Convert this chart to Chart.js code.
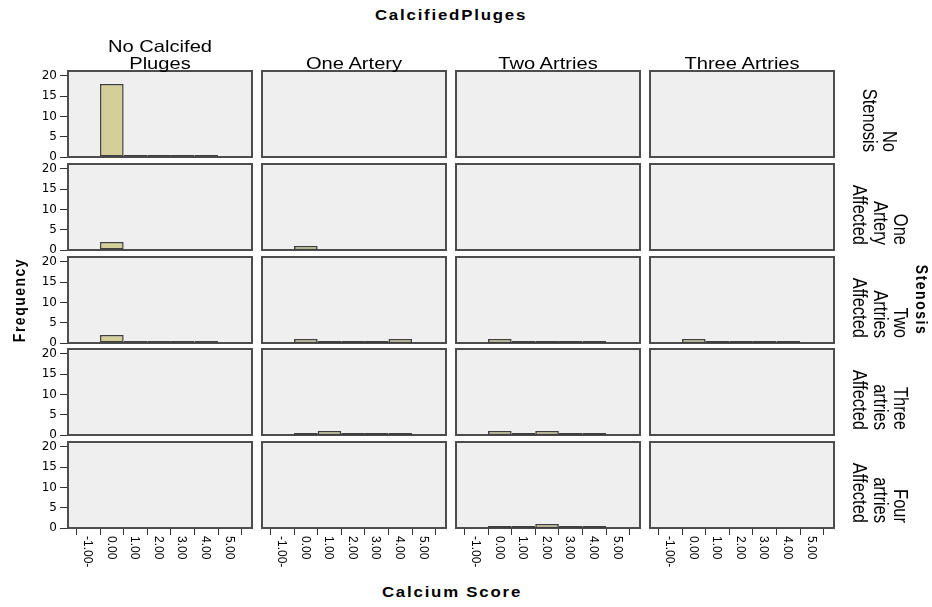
<!DOCTYPE html>
<html><head><meta charset="utf-8">
<script src="https://cdn.jsdelivr.net/npm/chart.js@4.4.1/dist/chart.umd.min.js"></script>
<style>
html,body{margin:0;padding:0;background:#fff;}
body{width:932px;height:607px;position:relative;overflow:hidden;font-family:"Liberation Sans",Arial,sans-serif;color:#000;}
canvas{position:absolute;}
.t{position:absolute;white-space:nowrap;color:#000;}
</style></head><body>
<script>
// ---- data ----
const title = "CalcifiedPluges";
const rowTitle = "Stenosis";
const yTitle = "Frequency";
const xTitle = "Calcium Score";
const colLabels = [["No Calcifed","Pluges"],["One Artery"],["Two Artries"],["Three Artries"]];
const rowLabels = [["No","Stenosis"],["One","Artery","Affected"],["Two","Artries","Affected"],["Three","artries","Affected"],["Four","artries","Affected"]];
const bins = [0,1,2,3,4];
const xTicks = [-1,0,1,2,3,4,5];
const xTickLabels = ["-1.00-","0.00","1.00","2.00","3.00","4.00","5.00"];
const yTicks = [0,5,10,15,20];
// frequencies per panel (columns = CalcifiedPluges), null = no cases
const noStenosis   = [[18,0,0,0,0], null, null, null];
const oneArtery    = [[2], [1], null, null];
const twoArtries   = [[2,0,0,0,0], [1,0,0,0,1], [1,0,0,0,0], [1,0,0,0,0]];
const threeArtries = [null, [0,1,0,0,0], [1,0,1,0,0], null];
const fourArtries  = [null, null, [0,0,1,0,0], null];
const grid = [noStenosis, oneArtery, twoArtries, threeArtries, fourArtries];

// ---- layout ----
const L0 = 68, DX = 194, PW = 184;
const T0 = 71, DY = 92.75, PH = 86;
const YAXW = 40, XAXH = 50, PAD = 10;

const framePlugin = {
  id: 'frame',
  beforeDatasetsDraw(chart) {
    const {left, top, right, bottom} = chart.chartArea;
    const ctx = chart.ctx;
    ctx.save();
    ctx.fillStyle = '#efefef';
    ctx.fillRect(left, top, right - left, bottom - top);
    ctx.strokeStyle = '#4d4d4d';
    ctx.lineWidth = 2;
    ctx.strokeRect(left, top, right - left, bottom - top);
    ctx.restore();
  }
};
const xLabelPlugin = {
  id: 'xlabels',
  afterDraw(chart) {
    const s = chart.scales.x;
    if (!s.options.display) return;
    const ctx = chart.ctx;
    ctx.save();
    ctx.font = '12px "Liberation Sans", Arial, sans-serif';
    ctx.fillStyle = '#000';
    ctx.textAlign = 'left';
    ctx.textBaseline = 'middle';
    s.ticks.forEach((t, i) => {
      const x = s.getPixelForTick(i);
      ctx.save();
      ctx.translate(x - 1, s.top + 8);
      ctx.rotate(Math.PI / 2);
      ctx.fillText(t.label, 0, 0);
      ctx.restore();
    });
    ctx.restore();
  }
};

function addText(txt, css) {
  const d = document.createElement('div');
  d.className = 't';
  d.innerHTML = txt;
  Object.assign(d.style, css);
  document.body.appendChild(d);
  return d;
}

for (let r = 0; r < 5; r++) {
  for (let c = 0; c < 4; c++) {
    const vals = grid[r][c];
    const pl = L0 + DX * c, pt = Math.round(T0 + DY * r);
    const showY = c === 0, showX = r === 4;
    const lp = showY ? 0 : PAD, ax = showY ? YAXW : 0;
    const bp = showX ? 0 : PAD, ay = showX ? XAXH : 0;
    const cv = document.createElement('canvas');
    const w = lp + ax + PW + PAD, h = PAD + PH + ay + bp;
    cv.width = w; cv.height = h;
    cv.style.left = (pl - ax - lp) + 'px';
    cv.style.top = (pt - PAD) + 'px';
    cv.style.width = w + 'px'; cv.style.height = h + 'px';
    document.body.appendChild(cv);
    const data = vals ? vals.map((v, i) => ({x: bins[i], y: v})) : [];
    new Chart(cv, {
      type: 'bar',
      data: {datasets: [{
        data,
        backgroundColor: '#d4cf98',
        borderColor: '#3f3f3f',
        borderWidth: 1.5,
        borderSkipped: false,
        inflateAmount: 0,
        minBarLength: 2,
        barPercentage: 1,
        categoryPercentage: 1
      }]},
      options: {
        responsive: false, animation: false, devicePixelRatio: 1, events: [],
        layout: {padding: {left: lp, right: PAD, top: PAD, bottom: bp}},
        plugins: {legend: {display: false}, tooltip: {enabled: false}, title: {display: false}},
        scales: {
          x: {
            type: 'linear', min: -1.3, max: 5.38, display: showX,
            ticks: {stepSize: 1, includeBounds: false, display: false,
                    callback: v => xTickLabels[xTicks.indexOf(v)]},
            grid: {drawOnChartArea: false, drawTicks: true, tickLength: 7, tickColor: '#333', tickWidth: 1, color: '#333'},
            border: {display: false},
            afterFit: s => { s.height = showX ? XAXH : 0; s.paddingLeft = 0; s.paddingRight = 0; }
          },
          y: {
            type: 'linear', min: 0, max: 21.2, display: showY,
            afterBuildTicks: s => { s.ticks = yTicks.map(v => ({value: v})); },
            ticks: {includeBounds: false, padding: 3, color: '#000',
                    font: {family: 'DejaVu Sans', size: 12}},
            grid: {drawOnChartArea: false, drawTicks: true, tickLength: 8, tickColor: '#333', tickWidth: 1, color: '#333'},
            border: {display: false},
            afterFit: s => { s.width = showY ? YAXW : 0; s.paddingTop = 0; s.paddingBottom = 0; }
          }
        }
      },
      plugins: [framePlugin, xLabelPlugin]
    });
  }
}

// ---- texts ----
addText(title, {left: '451px', top: '7px', font: 'bold 14px "Liberation Sans", Arial, sans-serif', lineHeight: '16px',
  letterSpacing: '1.5px', transform: 'translate(-50%,0) scaleX(1.2)'});
addText(xTitle, {left: '452px', top: '584px', font: 'bold 14px "Liberation Sans", Arial, sans-serif', lineHeight: '16px',
  letterSpacing: '1.5px', transform: 'translate(-50%,0) scaleX(1.2)'});
colLabels.forEach((lines, c) => {
  const cx = L0 + DX * c + PW / 2;
  addText(lines.join('<br>'), {left: cx + 'px', top: (71.6 - lines.length * 17) + 'px',
    fontSize: '16.5px', lineHeight: '17px', textAlign: 'center', transform: 'translate(-50%,0) scaleX(1.22)'});
});
rowLabels.forEach((lines, r) => {
  const pb = Math.round(T0 + DY * r) + PH;
  const w = 90, hh = lines.length * 17;
  addText(lines.join('<br>'), {left: (880 + 0.6 * hh) + 'px', top: (pb - 5 - w) + 'px', width: w + 'px',
    fontSize: '16.5px', lineHeight: '17px', textAlign: 'right', transformOrigin: '0 0',
    transform: 'rotate(90deg) scale(1,1.2)'});
});
{
  const w = 100, hh = 16;
  addText(rowTitle, {left: (922 + 0.6 * hh) + 'px', top: (300 - w / 2) + 'px', width: w + 'px',
    font: 'bold 14px "Liberation Sans", Arial, sans-serif', lineHeight: hh + 'px', letterSpacing: '1.5px',
    textAlign: 'center', transformOrigin: '0 0', transform: 'rotate(90deg) scale(1,1.2)'});
  addText(yTitle, {left: (19 - 0.6 * hh) + 'px', top: (300 + w / 2) + 'px', width: w + 'px',
    font: 'bold 14px "Liberation Sans", Arial, sans-serif', lineHeight: hh + 'px', letterSpacing: '1.5px',
    textAlign: 'center', transformOrigin: '0 0', transform: 'rotate(-90deg) scale(1,1.2)'});
}
</script>
</body></html>
